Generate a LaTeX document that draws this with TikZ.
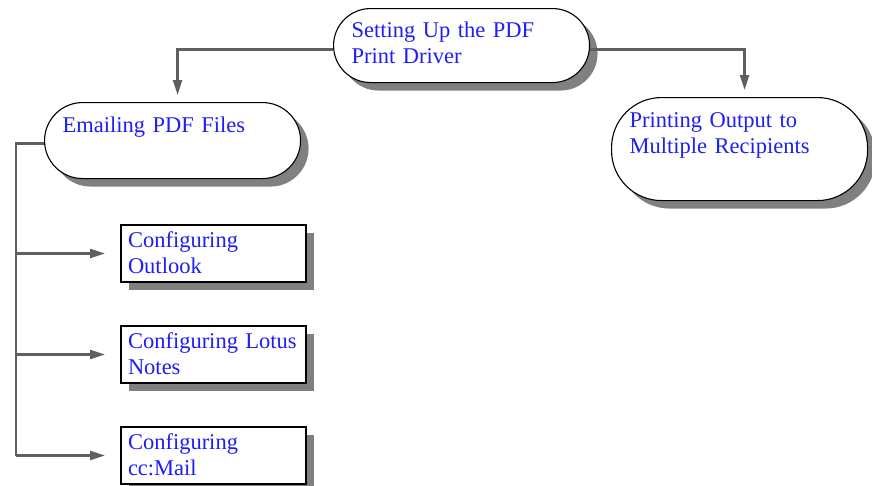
\documentclass[tikz,border=0pt]{standalone}
\usepackage{fontspec}
\setmainfont{Liberation Serif}
\usetikzlibrary{arrows.meta}
\usetikzlibrary{shadows}
\definecolor{linkblue}{RGB}{30,30,245}
\definecolor{wire}{RGB}{95,95,95}
\tikzset{
  topic/.style={draw=black, line width=1.1pt, fill=white, anchor=north west, align=left,
    text=linkblue, font=\fontsize{22.5}{26}\selectfont, inner ysep=0pt,
    drop shadow={shadow xshift=8pt, shadow yshift=-8pt, fill=gray, opacity=1}},
  stadium/.style={topic, inner xsep=18pt, text width=220pt},
  task/.style={topic, line width=2pt, inner xsep=7pt, text width=171pt,
    text height=22pt, text depth=35pt},
  link/.style={draw=wire, line width=2.2pt, -{Triangle[length=15pt,width=9pt]}},
}
\begin{document}
\begin{tikzpicture}[x=1pt,y=-1pt]
  \useasboundingbox (0,0) rectangle (872,485);
  % topics
  \node[stadium, rounded corners=37pt, text height=29pt, text depth=45pt] (setup) at (333,8) {Setting Up the PDF\\Print Driver};
  \node[stadium, rounded corners=38pt, text height=30pt, text depth=46pt] (email) at (44,102) {Emailing PDF Files};
  \node[stadium, rounded corners=50pt, text height=30pt, text depth=73pt] (multi) at (611,97) {Printing Output to\\Multiple Recipients};
  % tasks
  \node[task] (outlook) at (120,224) {Configuring\\Outlook};
  \node[task] (lotus) at (120,325) {Configuring Lotus\\Notes};
  \node[task] (ccmail) at (120,426) {Configuring\\cc:Mail};
  % links
  \draw[link, shorten >=7pt] ([yshift=-4pt]setup.west) -| ([xshift=5pt]email.north);
  \draw[link, shorten >=7pt] ([yshift=-4pt]setup.east) -| ([xshift=5pt]multi.north);
  \coordinate (trunk) at ([xshift=-28pt,yshift=-3pt]email.west);
  \draw[link, -] ([yshift=-3pt]email.west) -- (trunk) -- (trunk |- ccmail.west);
  \foreach \n in {outlook,lotus,ccmail}
    \draw[link, shorten >=15pt] (trunk |- \n.west) -- (\n.west);
\end{tikzpicture}
\end{document}
